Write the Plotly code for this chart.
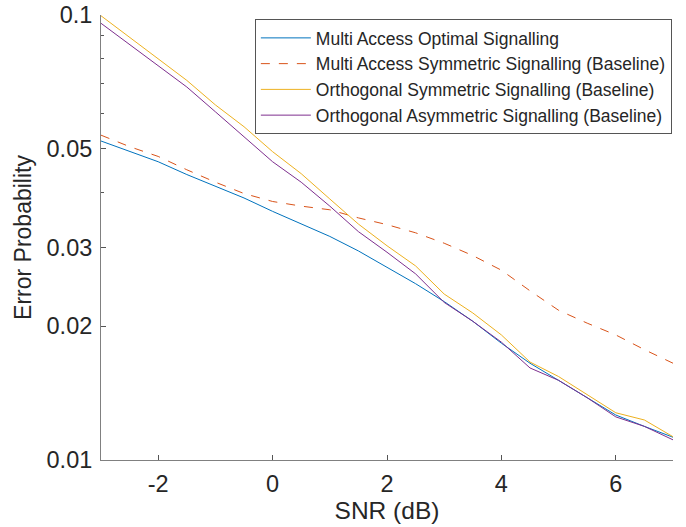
import plotly.graph_objects as go

snr_db = [-3.0, -2.5, -2.0, -1.5, -1.0, -0.5, 0.0, 0.5, 1.0, 1.5, 2.0,
          2.5, 3.0, 3.5, 4.0, 4.5, 5.0, 5.5, 6.0, 6.5, 7.0]

ma_optimal = [0.0521, 0.0493, 0.0468, 0.0438, 0.0412, 0.0388, 0.0362, 0.0339,
              0.0318, 0.0295, 0.0271, 0.0249, 0.0227, 0.0205, 0.0183, 0.0165,
              0.0151, 0.0138, 0.01262, 0.0119, 0.01125]
ma_symmetric = [0.0537, 0.0506, 0.0481, 0.0449, 0.0421, 0.0397, 0.0381, 0.0372,
                0.0365, 0.0350, 0.0338, 0.0324, 0.0307, 0.0288, 0.0267, 0.0240,
                0.0217, 0.0203, 0.0191, 0.0177, 0.0165]
orth_symmetric = [0.0996, 0.0891, 0.0797, 0.0713, 0.0628, 0.0561, 0.0493, 0.0440,
                  0.0386, 0.0339, 0.0303, 0.0273, 0.0236, 0.0214, 0.0191, 0.0166,
                  0.0154, 0.0140, 0.01277, 0.0123, 0.01128]
orth_asymmetric = [0.0958, 0.0857, 0.0769, 0.0689, 0.0606, 0.0533, 0.0468, 0.0421,
                   0.0372, 0.0326, 0.0293, 0.0262, 0.0226, 0.0205, 0.0184, 0.0161,
                   0.0151, 0.0138, 0.0125, 0.0119, 0.0111]

series_names = ["Multi Access Optimal Signalling",
                "Multi Access Symmetric Signalling (Baseline)",
                "Orthogonal Symmetric Signalling (Baseline)",
                "Orthogonal Asymmetric Signalling (Baseline)"]
colors = ["#0072BD", "#D95319", "#EDB120", "#7E2F8E"]
dashes = ["solid", "dash", "solid", "solid"]

y_tick_vals = [0.01, 0.02, 0.03, 0.05, 0.1]
y_tick_text = ["0.01", "0.02", "0.03", "0.05", "0.1"]
y_minor_vals = [0.04, 0.06, 0.07, 0.08, 0.09]
x_tick_vals = [-2, 0, 2, 4, 6]
x_tick_text = ["-2", "0", "2", "4", "6"]

fig = go.Figure()
for name, ys, c, d in zip(series_names,
                          [ma_optimal, ma_symmetric, orth_symmetric, orth_asymmetric],
                          colors, dashes):
    fig.add_trace(go.Scatter(x=snr_db, y=ys, mode="lines", name=name,
                             line=dict(color=c, width=1, dash=d)))

font_family = "Liberation Sans, Arial, sans-serif"
fig.update_layout(
    width=686, height=527,
    margin=dict(l=101, r=13, t=15, b=67),
    paper_bgcolor="white", plot_bgcolor="white",
    font=dict(family=font_family, color="#262626"),
    legend=dict(x=0.998, y=0.991, xanchor="right", yanchor="top",
                bordercolor="#555555", borderwidth=1, bgcolor="white",
                font=dict(size=17.5, color="#262626"),
                tracegroupgap=0, itemwidth=50),
    showlegend=True,
)
fig.update_xaxes(range=[-3, 7], tickvals=x_tick_vals, ticktext=x_tick_text,
                 ticks="inside", ticklen=5,
                 tickcolor="#555555", showline=True, linecolor="#808080", linewidth=1,
                 showgrid=False, zeroline=False, tickfont=dict(size=23.5),
                 automargin=False, ticklabelstandoff=3, ticklabeloverflow="allow",
                 title=dict(text="SNR (dB)", font=dict(size=24.5), standoff=4))
fig.update_yaxes(type="log", range=[-2, -1], tickvals=y_tick_vals, ticktext=y_tick_text,
                 ticks="inside", ticklen=5, tickcolor="#555555", showline=True,
                 linecolor="#808080", linewidth=1, showgrid=False, zeroline=False,
                 tickfont=dict(size=23.5), automargin=False, ticklabelstandoff=3,
                 ticklabeloverflow="allow",
                 minor=dict(tickvals=y_minor_vals, ticks="inside", ticklen=3,
                            tickcolor="#555555", showgrid=False),
                 title=dict(text="Error Probability", font=dict(size=23), standoff=8))

fig.write_html("out.html", config={"displayModeBar": False},
               post_script="document.body.style.margin='0';document.body.style.overflow='hidden';")
